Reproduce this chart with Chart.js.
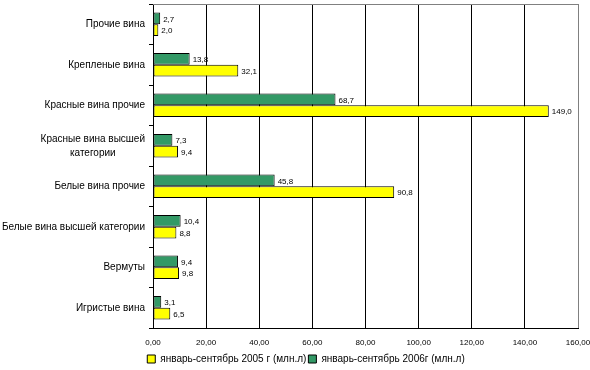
<!DOCTYPE html>
<html>
<head>
<meta charset="utf-8">
<script src="https://cdn.jsdelivr.net/npm/chart.js@4.4.1/dist/chart.umd.min.js"></script>
<style>
    html, body { margin: 0; padding: 0; background: #fff; }
    #wrap { width: 590px; height: 370px; position: relative; }
</style>
</head>
<body>
<div id="wrap"><canvas id="wineChart"></canvas></div>
<script>
// Categories (top to bottom)
const categories = [
    'Прочие вина',
    'Крепленые вина',
    'Красные вина прочие',
    ['Красные вина высшей', 'категории'],
    'Белые вина прочие',
    'Белые вина высшей категории',
    'Вермуты',
    'Игристые вина'
];

// January-September 2006, mln l
const values2006 = [2.7, 13.8, 68.7, 7.3, 45.8, 10.4, 9.4, 3.1];
// January-September 2005, mln l
const values2005 = [2.0, 32.1, 149.0, 9.4, 90.8, 8.8, 9.8, 6.5];

const label2005 = 'январь-сентябрь 2005 г (млн.л)';
const label2006 = 'январь-сентябрь 2006г (млн.л)';

const FONT = "'Liberation Sans', Arial, sans-serif";
Chart.defaults.font.family = FONT;
Chart.defaults.color = '#000';

function commaNum(v, digits) {
    return v.toFixed(digits).replace('.', ',');
}

// Numbers at the end of each bar
const valueLabels = {
    id: 'valueLabels',
    afterDatasetsDraw(chart) {
        const ctx = chart.ctx;
        ctx.save();
        ctx.font = '8px ' + FONT;
        ctx.fillStyle = '#000';
        ctx.textAlign = 'left';
        ctx.textBaseline = 'middle';
        chart.data.datasets.forEach((ds, di) => {
            chart.getDatasetMeta(di).data.forEach((bar, i) => {
                ctx.fillText(commaNum(ds.data[i], 1), bar.x + 3, bar.y + 1);
            });
        });
        ctx.restore();
    }
};

// Category labels: right aligned, extra lines centred under the first
const categoryLabels = {
    id: 'categoryLabels',
    afterDraw(chart) {
        const ctx = chart.ctx;
        const yScale = chart.scales.y;
        const right = chart.chartArea.left - 8;
        ctx.save();
        ctx.font = '10px ' + FONT;
        ctx.fillStyle = '#000';
        ctx.textAlign = 'center';
        ctx.textBaseline = 'middle';
        categories.forEach((lab, i) => {
            const lines = Array.isArray(lab) ? lab : [lab];
            const w = Math.max(...lines.map(l => ctx.measureText(l).width));
            const cx = right - w / 2;
            const yc = yScale.getPixelForValue(i);
            const lh = 14;
            lines.forEach((l, k) => {
                ctx.fillText(l, cx, yc + (k - (lines.length - 1) / 2) * lh);
            });
        });
        ctx.restore();
    }
};

// Grey top border of the plot area
const topBorder = {
    id: 'topBorder',
    afterDatasetsDraw(chart) {
        const a = chart.chartArea;
        const ctx = chart.ctx;
        ctx.save();
        ctx.strokeStyle = '#808080';
        ctx.lineWidth = 1;
        ctx.beginPath();
        ctx.moveTo(a.left, a.top + 0.5);
        ctx.lineTo(a.right, a.top + 0.5);
        ctx.stroke();
        ctx.restore();
    }
};

new Chart(document.getElementById('wineChart'), {
    type: 'bar',
    data: {
        labels: categories,
        datasets: [
            {
                label: label2006,
                data: values2006,
                backgroundColor: '#339966',
                borderColor: '#000',
                borderWidth: 1,
                borderSkipped: false
            },
            {
                label: label2005,
                data: values2005,
                backgroundColor: '#ffff00',
                borderColor: '#000',
                borderWidth: 1,
                borderSkipped: false
            }
        ]
    },
    options: {
        indexAxis: 'y',
        responsive: true,
        maintainAspectRatio: false,
        animation: false,
        layout: {
            padding: { top: 4, right: 0, left: 22, bottom: -4 }
        },
        datasets: {
            bar: { categoryPercentage: 0.58, barPercentage: 1.0 }
        },
        plugins: {
            tooltip: { enabled: false },
            legend: {
                position: 'bottom',
                labels: {
                    font: { size: 10, family: FONT },
                    color: '#000',
                    boxWidth: 8,
                    boxHeight: 8,
                    padding: 2,
                    sort: (a, b) => b.datasetIndex - a.datasetIndex
                }
            }
        },
        scales: {
            x: {
                min: 0,
                max: 160,
                ticks: {
                    stepSize: 20,
                    font: { size: 8, family: FONT },
                    color: '#000',
                    padding: 10,
                    maxRotation: 0,
                    callback: v => commaNum(v, 2)
                },
                grid: {
                    drawTicks: false,
                    color: ctx => ctx.tick && ctx.tick.value === 160 ? '#808080' : '#000',
                    lineWidth: 1
                },
                border: { color: '#000', width: 1 },
                afterFit: scale => {
                    scale.height = 24;
                    scale.paddingRight = 12;
                    scale.paddingLeft = 0;
                }
            },
            y: {
                ticks: { display: false },
                grid: {
                    drawOnChartArea: false,
                    tickLength: 4,
                    tickColor: '#000'
                },
                border: { color: '#000', width: 1 },
                afterFit: scale => { scale.width = 131; }
            }
        }
    },
    plugins: [valueLabels, categoryLabels, topBorder]
});
</script>
</body>
</html>
